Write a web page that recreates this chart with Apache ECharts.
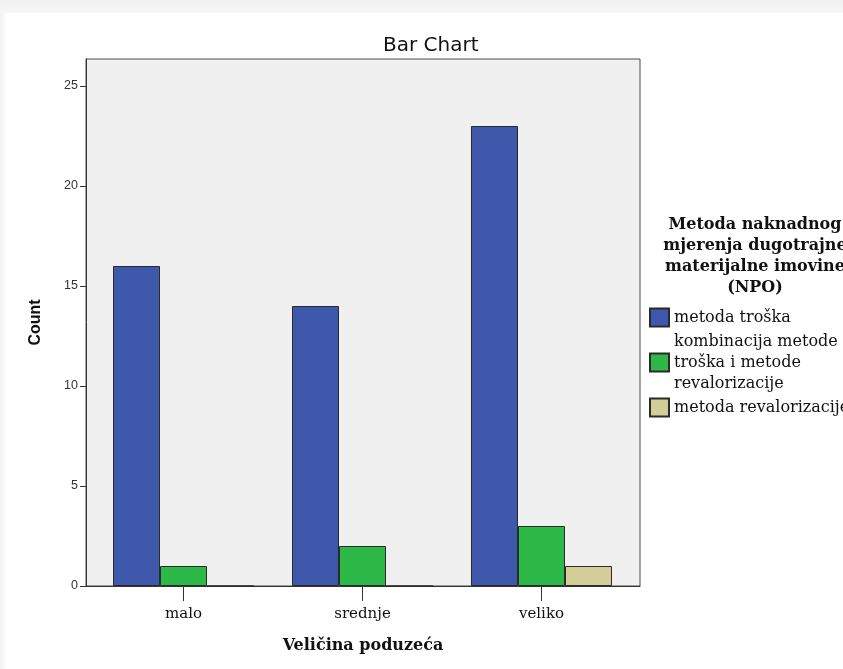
<!DOCTYPE html>
<html>
<head>
<meta charset="utf-8">
<script src="https://cdn.jsdelivr.net/npm/echarts@6/dist/echarts.min.js"></script>
<style>
html,body{margin:0;padding:0;background:#fff;}
#chart{width:843px;height:669px;}
</style>
</head>
<body>
<div id="chart"></div>
<script>
const categories = ['malo', 'srednje', 'veliko'];
const seriesNames = ['metoda troška', 'kombinacija metode\ntroška i metode\nrevalorizacije', 'metoda revalorizacije'];
const metodaTroska = [16, 14, 23];
const kombinacijaMetoda = [1, 2, 3];
const metodaRevalorizacije = [0, 0, 1];
const seriesValues = [metodaTroska, kombinacijaMetoda, metodaRevalorizacije];
const seriesColors = ['#3e58ac', '#2eb848', '#d3ce97'];
const yMax = 26.35;
const yInterval = 5;
const categoryIndex = categories.map((c, i) => i);

const chart = echarts.init(document.getElementById('chart'), null, {renderer: 'canvas'});

const serif = 'DejaVu Serif';
const sans = 'Liberation Sans';

const option = {
  backgroundColor: '#ffffff',
  animation: false,
  title: {
    text: 'Bar Chart',
    left: 378,
    top: 31,
    textStyle: {fontFamily: 'DejaVu Sans', fontSize: 20, fontWeight: 'normal', color: '#111'}
  },
  graphic: [
    {
      type: 'rect', z: -10, silent: true,
      shape: {x: 0, y: 0, width: 843, height: 13},
      style: {fill: new echarts.graphic.LinearGradient(0, 0, 0, 1, [{offset: 0, color: '#efefef'}, {offset: 1, color: '#f7f7f7'}])}
    },
    {
      type: 'rect', z: -10, silent: true,
      shape: {x: 0, y: 13, width: 6, height: 656},
      style: {fill: new echarts.graphic.LinearGradient(0, 0, 1, 0, [{offset: 0, color: '#f2f2f2'}, {offset: 1, color: '#fbfbfb'}])}
    },
    {
      type: 'text', silent: true,
      x: 755, y: 214,
      style: {
        text: 'Metoda naknadnog\nmjerenja dugotrajne\nmaterijalne imovine\n(NPO)',
        fontFamily: serif, fontSize: 16, fontWeight: 'bold',
        lineHeight: 21, textAlign: 'center', align: 'center',
        textVerticalAlign: 'top', verticalAlign: 'top', fill: '#111'
      }
    }
  ],
  legend: {
    orient: 'vertical',
    left: 649,
    top: 307,
    padding: 0,
    itemWidth: 19,
    itemHeight: 18,
    itemGap: 3,
    icon: 'rect',
    selectedMode: false,
    data: seriesNames,
    textStyle: {fontFamily: serif, fontSize: 16, lineHeight: 21, color: '#111'}
  },
  grid: {
    left: 86, right: 203, top: 59, bottom: 83,
    show: true,
    backgroundColor: '#f0f0f0',
    borderColor: '#4a4a4a',
    borderWidth: 1
  },
  xAxis: {
    type: 'value',
    min: -0.5447,
    max: 2.5503,
    name: 'Veličina poduzeća',
    nameLocation: 'middle',
    nameGap: 52,
    nameTextStyle: {fontFamily: serif, fontSize: 16, fontWeight: 'bold', color: '#111'},
    splitLine: {show: false},
    axisLine: {show: true, onZero: false, lineStyle: {color: '#333', width: 1}},
    axisTick: {show: true, length: 15, customValues: categoryIndex, lineStyle: {color: '#333'}},
    axisLabel: {
      customValues: categoryIndex,
      margin: 21,
      fontFamily: serif, fontSize: 15, color: '#111',
      formatter: v => categories[Math.round(v)]
    }
  },
  yAxis: {
    type: 'value',
    min: 0,
    max: yMax,
    interval: yInterval,
    name: 'Count',
    nameLocation: 'middle',
    nameGap: 42,
    nameTextStyle: {fontFamily: sans, fontSize: 16, fontWeight: 'bold', color: '#111'},
    splitLine: {show: false},
    axisLine: {show: true, onZero: false, lineStyle: {color: '#333', width: 1}},
    axisTick: {show: true, length: 6, lineStyle: {color: '#333'}},
    axisLabel: {
      margin: 8, fontFamily: sans, fontSize: 12.5, color: '#333',
      showMaxLabel: false
    }
  },
  series: seriesNames.map((name, s) => ({
    name: name,
    type: 'bar',
    barWidth: 47,
    barGap: '0%',
    data: categoryIndex.map(i => [i, seriesValues[s][i]]),
    itemStyle: {color: seriesColors[s], borderColor: '#2a2a2a', borderWidth: 1}
  }))
};
chart.setOption(option);
</script>
</body>
</html>
